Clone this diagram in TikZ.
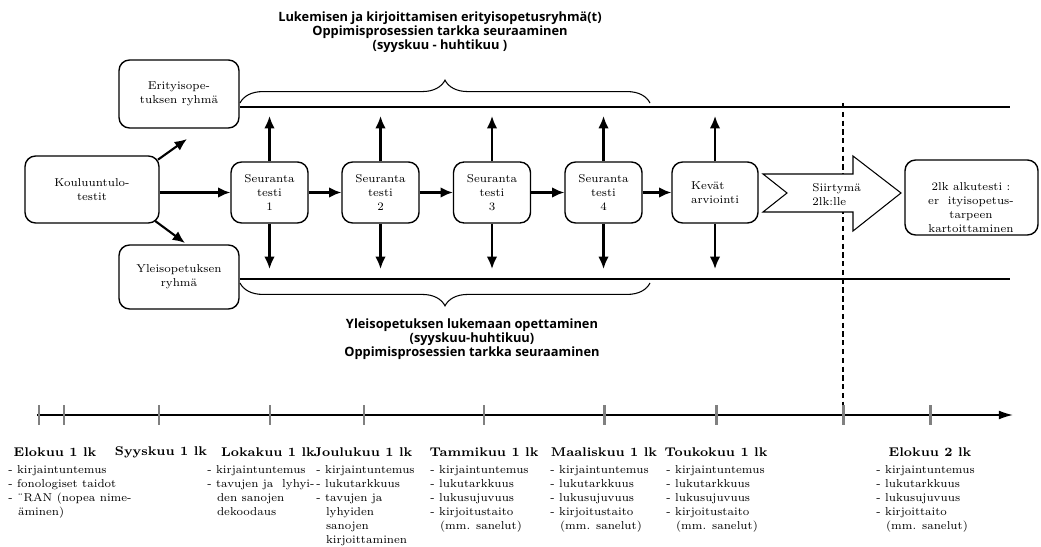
\documentclass[tikz,border=0pt]{standalone}
\usepackage{fontspec}
\newfontfamily\otsikkofont{Open Sans}
\usetikzlibrary{arrows.meta,decorations.pathreplacing}

\newcommand{\teksti}{\fontsize{6.5}{7.97}\selectfont}
\newcommand{\jatko}{\hspace*{5.5pt}}

\tikzset{
  laatikko/.style={draw, thick, rounded corners=6pt, align=center, font=\teksti},
  nuoli/.style={very thick, -{Latex[length=7pt,width=6pt]}},
  viiva/.style={very thick},
  sulku/.style={decorate, decoration={brace, amplitude=13pt}, semithick},
  otsikko/.style={align=center, font=\otsikkofont\bfseries\fontsize{7.3}{8}\selectfont},
  tikki/.style={line width=1.7pt, black!50},
  kuukausi/.style={font=\bfseries\fontsize{7.2}{9}\selectfont},
  lista/.style={anchor=north west, align=left, inner sep=0pt, font=\teksti},
}

\begin{document}
\begin{tikzpicture}[x=0.02cm, y=-0.02cm]
\useasboundingbox (0,0) rectangle (1041,547);

% otsikot
\node[otsikko] (erotsikko) at (440,32) {Lukemisen ja kirjoittamisen erityisopetusryhmä(t)\\Oppimisprosessien tarkka seuraaminen\\(syyskuu - huhtikuu )};
\node[otsikko] (yleotsikko) at (472,339) {Yleisopetuksen lukemaan opettaminen\\(syyskuu-huhtikuu)\\Oppimisprosessien tarkka seuraaminen};

% laatikot
\node[laatikko, minimum width=2.4cm, minimum height=1.36cm] (eri) at (179,94) {Erityisope-\\tuksen ryhmä};
\node[laatikko, minimum width=2.4cm, minimum height=1.28cm] (yleis) at (179,277) {Yleisopetuksen\\ryhmä};
\node[laatikko, minimum width=2.68cm, minimum height=1.34cm] (koulu) at (92,189.5) {Kouluuntulo-\\testit};
\node[laatikko, minimum width=1.54cm, minimum height=1.22cm] (s1) at (269.5,192.5) {Seuranta\\testi\\1};
\node[laatikko, minimum width=1.54cm, minimum height=1.22cm] (s2) at (380.5,192.5) {Seuranta\\testi\\2};
\node[laatikko, minimum width=1.54cm, minimum height=1.22cm] (s3) at (492,192.5) {Seuranta\\testi\\3};
\node[laatikko, minimum width=1.54cm, minimum height=1.22cm] (s4) at (603.5,192.5) {Seuranta\\testi\\4};
\node[laatikko, minimum width=1.72cm, minimum height=1.22cm, align=left] (kevat) at (715,192.5) {Kevät\\arviointi};
\node[laatikko, minimum width=2.66cm, minimum height=1.5cm] (alku) at (971.5,197.5) {};
\node[align=center, font=\teksti, inner sep=0pt] (alkuteksti) at (971,208) {2lk alkutesti :\\er\ \ ityisopetus-\\tarpeen\\kartoittaminen};

% vaakaviivat ja sulut
\coordinate (ylaviiva) at (1010,107);
\coordinate (alaviiva) at (1010,279);
\draw[viiva] (eri.east |- ylaviiva) -- (ylaviiva);
\draw[viiva] (yleis.east |- alaviiva) -- (alaviiva);
\draw[sulku] (240,103) -- (650,103);
\draw[sulku] (650,283) -- (240,283);

% nuolet
\coordinate (ylos) at (187,139);
\coordinate (alas) at (185,243);
\draw[nuoli] ([xshift=-1pt,yshift=-2.5pt]koulu.north east) -- (ylos);
\draw[nuoli] ([xshift=-2.5pt,yshift=1.5pt]koulu.south east) -- (alas);
\draw[nuoli] (koulu.east |- s1) -- (s1);
\draw[nuoli] (s1) -- (s2);
\draw[nuoli] (s2) -- (s3);
\draw[nuoli] (s3) -- (s4);
\draw[nuoli] (s4) -- (kevat);
\coordinate (ylaraja) at (0,116);
\coordinate (alaraja) at (0,269);
\foreach \n in {s1,s2,s3,s4,kevat} {
  \draw[nuoli] (\n.north) -- (\n.north |- ylaraja);
  \draw[nuoli] (\n.south) -- (\n.south |- alaraja);
}

% siirtyma
\draw[thick, dash pattern=on 3pt off 2pt] (843,103) -- (843,410);
\filldraw[fill=white, semithick] (763,174) -- (853,174) -- (853,156) -- (901,193)
  -- (853,231) -- (853,212) -- (763,212) -- (787,193) -- cycle;
\node[anchor=west, align=left, font=\teksti, inner sep=0pt] (siirtyma) at (812,195) {Siirtymä\\2lk:lle};

% aikajana
\draw[thick, -{Latex[length=8pt,width=5pt]}] (37,415) -- (1013,415);
\foreach \x in {39,64,159,270,364,484,604,716,843,930}
  \draw[tikki] (\x,405) -- (\x,425);

\node[kuukausi] (elo1) at (55,452) {Elokuu 1 lk};
\node[kuukausi] (syys) at (161,452) {Syyskuu 1 lk};
\node[kuukausi] (loka) at (268,452) {Lokakuu 1 lk};
\node[kuukausi] (joulu) at (363,452) {Joulukuu 1 lk};
\node[kuukausi] (tammi) at (484,452) {Tammikuu 1 lk};
\node[kuukausi] (maalis) at (604,452) {Maaliskuu 1 lk};
\node[kuukausi] (touko) at (716,452) {Toukokuu 1 lk};
\node[kuukausi] (elo2) at (930,452) {Elokuu 2 lk};

\node[lista] (lelo1) at (8,465) {- kirjaintuntemus\\- fonologiset taidot\\- ¨RAN (nopea nime-\\\jatko äminen)};
\node[lista] (lloka) at (207,465) {- kirjaintuntemus\\- tavujen ja\ \ lyhyi-\\\jatko den sanojen\\\jatko dekoodaus};
\node[lista] (ljoulu) at (316,465) {- kirjaintuntemus\\- lukutarkkuus\\- tavujen ja\\\jatko lyhyiden\\\jatko sanojen\\\jatko kirjoittaminen};
\foreach \x/\n in {430/tammi,550/maalis,666/touko}
  \node[lista] (l\n) at (\x,465) {- kirjaintuntemus\\- lukutarkkuus\\- lukusujuvuus\\- kirjoitustaito\\\jatko(mm. sanelut)};
\node[lista] (lelo2) at (876,465) {- kirjaintuntemus\\- lukutarkkuus\\- lukusujuvuus\\- kirjoittaito\\\jatko(mm. sanelut)};
\end{tikzpicture}
\end{document}
